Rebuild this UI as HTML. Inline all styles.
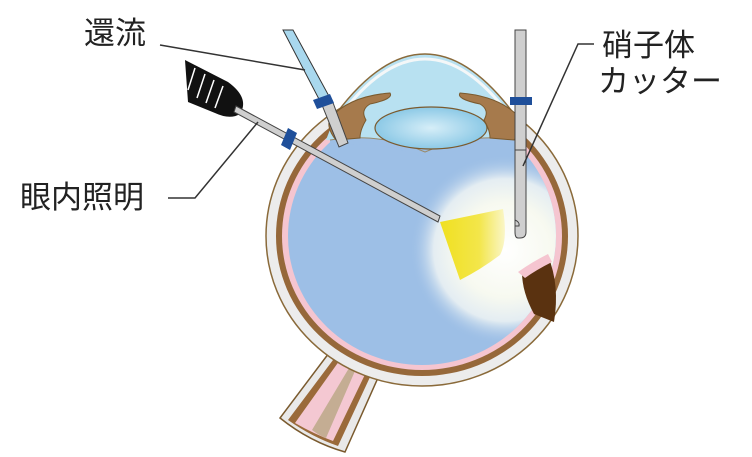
<!DOCTYPE html>
<html><head><meta charset="utf-8"><style>
html,body{margin:0;padding:0;background:#fff;}
svg{display:block}
text{font-family:"Liberation Sans","Noto Sans CJK JP",sans-serif;font-size:31px;fill:#222}
</style></head><body>
<svg width="752" height="457" viewBox="0 0 752 457" xmlns="http://www.w3.org/2000/svg">
<defs>
<radialGradient id="glow" cx="505" cy="250" r="95" gradientUnits="userSpaceOnUse">
<stop offset="0" stop-color="#fff"/><stop offset="0.5" stop-color="#f7f9f0"/><stop offset="0.75" stop-color="#e4edf2"/><stop offset="1" stop-color="#9dbfe6" stop-opacity="0"/>
</radialGradient>
<linearGradient id="yel" x1="440" y1="0" x2="505" y2="0" gradientUnits="userSpaceOnUse">
<stop offset="0" stop-color="#f0e020"/><stop offset="0.6" stop-color="#f3e64a"/><stop offset="1" stop-color="#faf6c8"/>
</linearGradient>
<radialGradient id="lensg" cx="0.5" cy="0.5" r="0.5"><stop offset="0" stop-color="#d6eef8"/><stop offset="1" stop-color="#8cc9e6"/></radialGradient>
<clipPath id="inner"><ellipse cx="422" cy="236" rx="134" ry="129"/></clipPath>
</defs>
<!-- optic nerve -->
<path d="M335 345 L280 418 Q310 442 345 452 L385 362 Z" fill="#e9e9e9" stroke="#7a5a2e" stroke-width="1.5"/>
<path d="M342 348 L288 420 Q312 437 338 446 L377 362 Z" fill="#9a6a3a"/>
<path d="M347 350 L295 423 Q314 434 333 441 L371 362 Z" fill="#f4c8d2"/>
<path d="M355 358 L312 430 Q320 436 326 438 L358 364 Z" fill="#c4ad93"/>
<!-- sclera -->
<ellipse cx="422" cy="236" rx="156" ry="150" fill="#ececec" stroke="#8a6a3a" stroke-width="1.5"/>
<ellipse cx="422" cy="236" rx="146" ry="140" fill="#96683a"/>
<ellipse cx="422" cy="236" rx="140" ry="134" fill="#f5c5d0"/>
<ellipse cx="422" cy="236" rx="134" ry="129" fill="#9dbfe6"/>
<!-- cornea / anterior chamber -->
<path d="M336 114 Q425 -6 514 114 L524 140 Q425 150 326 140 Z" fill="#b8e1f1"/>
<path d="M336 114 Q425 -6 514 114" fill="none" stroke="#8a6a3a" stroke-width="1.5"/>
<path d="M340 116 Q425 2 510 116" fill="none" stroke="#f4f7f8" stroke-width="3"/>
<path d="M330 140 Q380 132 425 152 Q470 132 520 140 L520 146 Q470 140 425 158 Q380 140 330 146 Z" fill="#9dbfe6"/>
<path d="M330 140 Q380 132 425 152 Q470 132 520 140" fill="none" stroke="#9a8a6a" stroke-width="1"/>
<!-- iris -->
<path d="M330 118 Q350 96 390 93 Q394 99 370 104 Q360 110 366 120 Q360 130 360 138 L336 140 Q326 128 330 118 Z" fill="#a67a4c" stroke="#7a5a2e" stroke-width="1"/>
<path d="M520 118 Q500 96 460 93 Q456 99 480 104 Q490 110 484 120 Q490 130 490 138 L514 140 Q524 128 520 118 Z" fill="#a67a4c" stroke="#7a5a2e" stroke-width="1"/>
<!-- lens -->
<ellipse cx="431" cy="128" rx="56" ry="21" fill="url(#lensg)" stroke="#7a5a2e" stroke-width="1.2"/>
<!-- glow -->
<g clip-path="url(#inner)"><rect x="400" y="150" width="220" height="200" fill="url(#glow)"/></g>
<!-- detached retina -->
<path d="M522 272 Q534 262 548 256 Q560 285 554 322 L534 314 Q522 292 522 272 Z" fill="#5a3210"/>
<path d="M518 272 Q532 262 548 254 L552 262 Q536 270 525 278 Z" fill="#f5c5d0"/>
<!-- light beam -->
<path d="M440 222 L503 209 Q508 240 500 255 Q480 270 460 280 Z" fill="url(#yel)"/>
<!-- infusion -->
<path d="M283 30 L293 30 L330 98 L321 103 Z" fill="#a9d8ee" stroke="#333" stroke-width="1"/>
<path d="M322 105 L332 100 L348 143 L339 147 Z" fill="#cfcfcf" stroke="#444" stroke-width="1"/>
<path d="M313 100 L330 94 L334 103 L317 109 Z" fill="#1f4f9a"/>
<!-- light pipe -->
<path d="M185 60 L228 82 Q250 98 240 114 Q230 120 215 113 L188 102 Z" fill="#111"/>
<g stroke="#fff" stroke-width="1.5"><line x1="195" y1="68" x2="188" y2="90"/><line x1="205" y1="74" x2="197" y2="98"/><line x1="214" y1="80" x2="206" y2="103"/><line x1="223" y1="86" x2="215" y2="108"/></g>
<path d="M236 106 L440 216 L438 222 L234 112 Z" fill="#cfcfcf" stroke="#444" stroke-width="1"/>
<path d="M288 128 L297 133 L290 150 L281 145 Z" fill="#1f4f9a"/>
<!-- cutter -->
<path d="M515 30 L526 30 L526 232 Q526 238 520 238 L518 238 Q515 238 515 232 Z" fill="#cfcfcf" stroke="#444" stroke-width="1"/>
<path d="M515 220 Q520 222 519 226 L515 226" fill="none" stroke="#444" stroke-width="1"/>
<line x1="515" y1="150" x2="526" y2="150" stroke="#444" stroke-width="1"/>
<rect x="510" y="97" width="22" height="8" fill="#1f4f9a"/>
<!-- leader lines -->
<g stroke="#333" stroke-width="1.5" fill="none">
<polyline points="160,45 305,70"/>
<polyline points="168,198 195,198 258,122"/>
<polyline points="594,44 578,44 523,166"/>
</g>
<text x="84" y="44">還流</text>
<text x="20" y="208">眼内照明</text>
<text x="602" y="56">硝子体</text>
<text x="598" y="92">カッター</text>
</svg>
</body></html>
